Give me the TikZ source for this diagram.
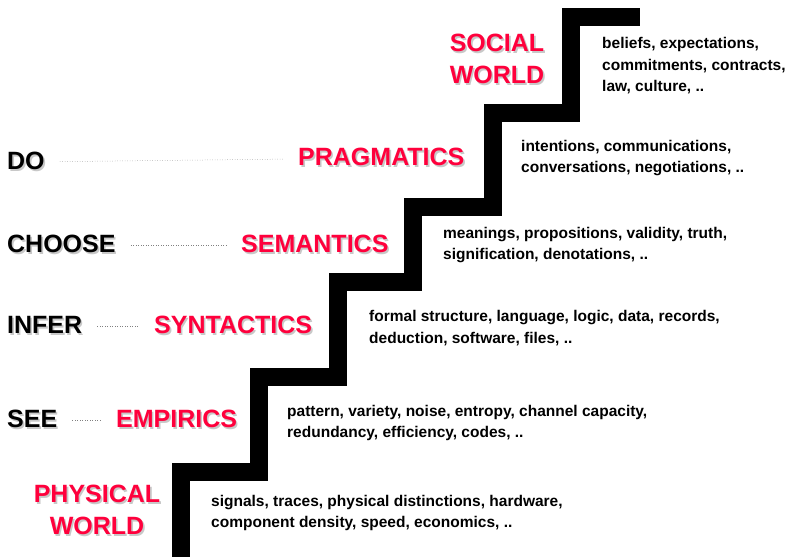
\documentclass[tikz,border=0pt]{standalone}
\usepackage{fontspec}
\setmainfont{Liberation Sans}
\definecolor{semred}{RGB}{255,0,60}
\definecolor{shade}{RGB}{200,200,200}
\newcommand{\shd}[1]{\makebox[0pt][l]{\kern1.6pt\raisebox{-1.6pt}{\color{shade}#1}}#1}
\tikzset{
  level/.style={inner sep=0pt, text=semred, font=\fontsize{25}{32}\selectfont\bfseries, align=center},
  act/.style={inner sep=0pt, anchor=west, font=\fontsize{25}{32}\selectfont\bfseries},
  notes/.style={inner sep=0pt, anchor=west, align=left, font=\fontsize{15.5}{21.5}\selectfont\bfseries},
  guide/.style={draw=gray, dotted, line width=0.5pt, shorten <=15pt, shorten >=15pt}
}
\begin{document}
\begin{tikzpicture}[x=1pt,y=-1pt]
\useasboundingbox (0,0) rectangle (793,557);
% the staircase
\draw [line width=18.5pt, miter limit=4] (181,557) -- (181,472) -- (259,472) -- (259,377) -- (338,377) -- (338,282)
  -- (413,282) -- (413,207) -- (493,207) -- (493,113) -- (571,113) -- (571,17) -- (640,17);
% semiotic levels
\node [level] (phys) at (97,511) {\shd{PHYSICAL}\\\shd{WORLD}};
\node [level, anchor=west] (emp) at (116,420) {\shd{EMPIRICS}};
\node [level, anchor=west] (syn) at (154,326) {\shd{SYNTACTICS}};
\node [level, anchor=west] (sem) at (241,245) {\shd{SEMANTICS}};
\node [level, anchor=west] (prag) at (298,158) {\shd{PRAGMATICS}};
\node [level] (soc) at (497,60) {\shd{SOCIAL}\\\shd{WORLD}};
% what we do at each level
\node [act] (see) at (7,420) {\shd{SEE}};
\node [act] (infer) at (7,326) {\shd{INFER}};
\node [act] (choose) at (7,245) {\shd{CHOOSE}};
\node [act] (do) at (7,162) {\shd{DO}};
\draw [guide] (see) -- (emp);
\draw [guide] (infer) -- (syn);
\draw [guide] (choose) -- (sem);
\draw [guide] (do) -- (prag);
% examples next to each step
\node [notes] (physnotes) at (211,513) {signals, traces, physical distinctions, hardware,\\component density, speed, economics, ..};
\node [notes] (empnotes) at (287,423) {pattern, variety, noise, entropy, channel capacity,\\redundancy, efficiency, codes, ..};
\node [notes] (synnotes) at (369,328) {formal structure, language, logic, data, records,\\deduction, software, files, ..};
\node [notes] (semnotes) at (443,245) {meanings, propositions, validity, truth,\\signification, denotations, ..};
\node [notes] (pragnotes) at (521,158) {intentions, communications,\\conversations, negotiations, ..};
\node [notes] (socnotes) at (602,66) {beliefs, expectations,\\commitments, contracts,\\law, culture, ..};
\end{tikzpicture}
\end{document}
